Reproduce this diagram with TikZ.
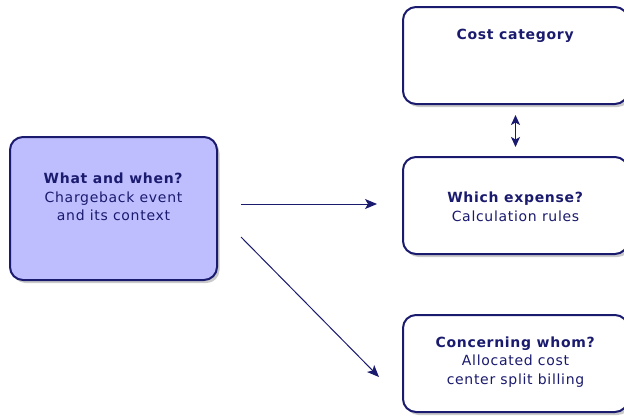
\documentclass[tikz,border=0pt]{standalone}
\usepackage{fontspec}
\setmainfont{DejaVu Sans}[LetterSpace=5]
\usetikzlibrary{arrows.meta,positioning,shadows}

\definecolor{inkblue}{HTML}{1A1A6E}
\definecolor{boxfill}{HTML}{BEBEFF}

\tikzset{
  card/.style={draw=inkblue, line width=2pt, rounded corners=13pt, fill=white,
    minimum width=225pt, minimum height=97pt,
    drop shadow={shadow xshift=2.5pt, shadow yshift=-3pt, opacity=0.35, fill=black!60}},
  cardtext/.style={text=inkblue, align=center, font=\fontsize{14}{18.5}\selectfont},
  flow/.style={draw=inkblue, line width=1pt, -{Stealth[length=12pt,width=10pt,inset=3pt]}},
}

\begin{document}
\begin{tikzpicture}[x=1pt, y=-1pt]
	\useasboundingbox (0,0) rectangle (624,416);
	% boxes
	\node[card, fill=boxfill, minimum width=207pt, minimum height=143pt] (what) at (113.5,208.5) {};
	\node[card] (cost) at (515.5,55.5) {};
	\node[card] (which) at (515.5,205.5) {};
	\node[card] (whom) at (515.5,363.5) {};
	
	% texts
	\node[cardtext] (whatlbl) at ([yshift=11.5pt]what.center) {\textbf{What and when?}\\Chargeback event\\and its context};
	\node[cardtext] (costlbl) at ([yshift=-29.5pt]cost.north) {\textbf{Cost category}};
	\node[cardtext] (whichlbl) at ([yshift=-1.5pt]which.center) {\textbf{Which expense?}\\Calculation rules};
	\node[cardtext] (whomlbl) at ([yshift=1.5pt]whom.center) {\textbf{Concerning whom?}\\Allocated cost\\center split billing};
	
	% links
	\draw[flow] ([xshift=23pt,yshift=4.5pt]what.east) -- ([xshift=-25pt,yshift=1.5pt]which.west);
	\draw[flow] ([xshift=23pt,yshift=-28.5pt]what.east) -- ([xshift=-23pt,yshift=-13.5pt]whom.west);
	\draw[flow, line width=1.6pt, {Stealth[length=10pt,width=9pt,inset=2.5pt]}-{Stealth[length=10pt,width=9pt,inset=2.5pt]}, shorten <=10pt, shorten >=9pt] (cost.south) -- (which.north);
\end{tikzpicture}
\end{document}
